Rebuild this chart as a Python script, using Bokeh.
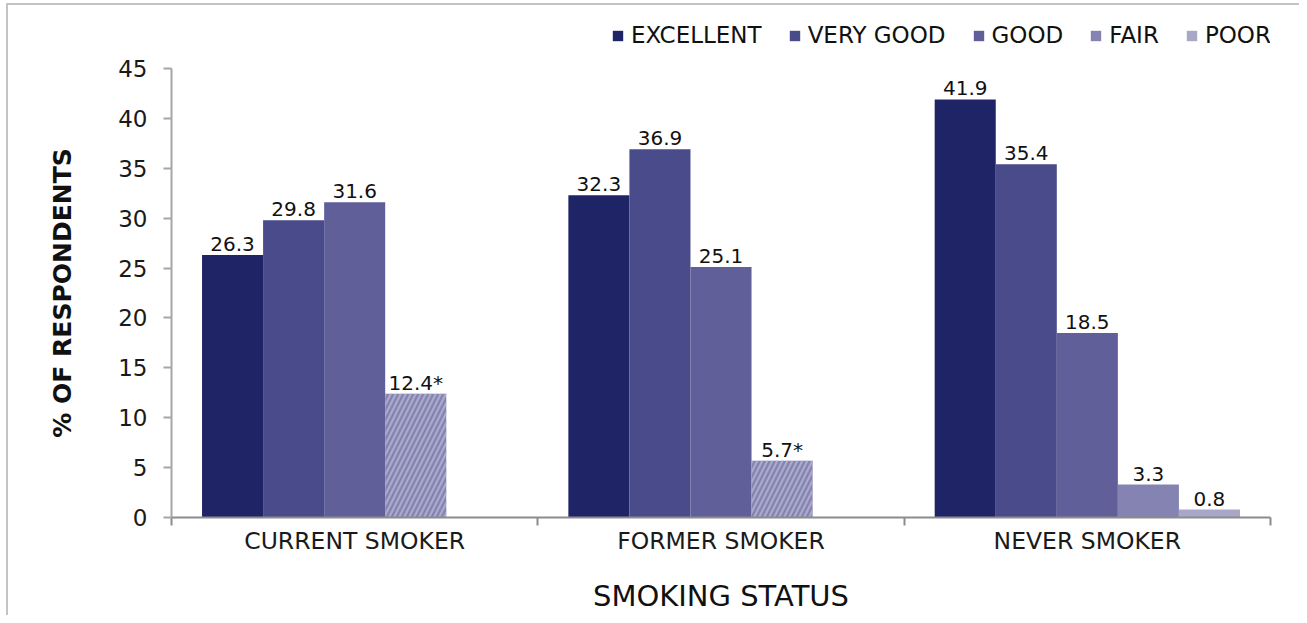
from bokeh.plotting import figure
from bokeh.layouts import column
from bokeh.models import (ColumnDataSource, Range1d, LinearAxis, FixedTicker,
                          Legend, LegendItem)
from bokeh.core.properties import value
from bokeh.embed import file_html
from bokeh.resources import INLINE

# ---- data ----
categories = ["CURRENT SMOKER", "FORMER SMOKER", "NEVER SMOKER"]
series = ["EXCELLENT", "VERY GOOD", "GOOD", "FAIR", "POOR"]
excellent = [26.3, 32.3, 41.9]
very_good = [29.8, 36.9, 35.4]
good = [31.6, 25.1, 18.5]
fair = [12.4, 5.7, 3.3]
poor = [None, None, 0.8]
fair_flagged = [True, True, False]   # estimate flagged with *
y_ticks = [0, 5, 10, 15, 20, 25, 30, 35, 40, 45]

colors = ["#1F2467", "#4A4B8A", "#605F99", "#8483B2", "#A8A7C8"]
FONT = "DejaVu Sans"

W = 1299
LH = 48          # legend strip height
H = 615 - LH     # main plot height

# ---------------- legend strip ----------------
lg = figure(width=W, height=LH, output_backend="svg", toolbar_location=None,
            x_range=Range1d(0, 1), y_range=Range1d(0, 1),
            x_axis_type=None, y_axis_type=None)
lg.min_border_left = lg.min_border_right = 0
lg.min_border_top = lg.min_border_bottom = 0
lg.outline_line_color = None
lg.background_fill_color = None
lg.border_fill_color = None
lg.xgrid.grid_line_color = None
lg.ygrid.grid_line_color = None

# ---------------- main plot ----------------
p = figure(width=W, height=H, output_backend="svg", toolbar_location=None,
           x_range=Range1d(0, 3), y_range=Range1d(0, 45),
           x_axis_type=None, y_axis_type=None)
p.min_border_left = 171
p.min_border_right = W - 1270
p.min_border_top = 68 - LH
p.min_border_bottom = 615 - 517
p.outline_line_color = None
p.background_fill_color = "white"
p.border_fill_color = None

# y axis
yaxis = LinearAxis(ticker=FixedTicker(ticks=y_ticks))
yaxis.axis_line_color = "#a6a6a6"
yaxis.axis_line_width = 2
yaxis.major_tick_line_color = "#a6a6a6"
yaxis.major_tick_line_width = 2
yaxis.major_tick_out = 8
yaxis.major_tick_in = 0
yaxis.minor_tick_line_color = None
yaxis.major_label_text_font = FONT
yaxis.major_label_text_font_size = "23px"
yaxis.major_label_text_color = "#1a1a1a"
yaxis.major_label_standoff = 16
yaxis.axis_label = "% OF RESPONDENTS"
yaxis.axis_label_text_font = FONT
yaxis.axis_label_text_font_size = "25px"
yaxis.axis_label_text_font_style = "bold"
yaxis.axis_label_text_color = "#111111"
yaxis.axis_label_standoff = 38
p.add_layout(yaxis, "left")

# x axis: labels at group centres, ticks at group boundaries
xaxis = LinearAxis(ticker=FixedTicker(ticks=[i + 0.5 for i in range(len(categories))],
                                      minor_ticks=list(range(len(categories) + 1))))
xaxis.major_label_overrides = {i + 0.5: c for i, c in enumerate(categories)}
xaxis.axis_line_color = "#8c8c8c"
xaxis.axis_line_width = 2
xaxis.major_tick_line_color = None
xaxis.major_tick_out = 0
xaxis.major_tick_in = 0
xaxis.minor_tick_line_color = "#8c8c8c"
xaxis.minor_tick_line_width = 2
xaxis.minor_tick_out = 8
xaxis.minor_tick_in = 0
xaxis.major_label_text_font = FONT
xaxis.major_label_text_font_size = "23.5px"
xaxis.major_label_text_color = "#1a1a1a"
xaxis.major_label_standoff = 1
xaxis.axis_label = "SMOKING STATUS"
xaxis.axis_label_text_font = FONT
xaxis.axis_label_text_font_size = "29px"
xaxis.axis_label_text_font_style = "normal"
xaxis.axis_label_text_color = "#111111"
xaxis.axis_label_standoff = 21
p.add_layout(xaxis, "below")

# grid
p.ygrid.ticker = FixedTicker(ticks=y_ticks)
p.ygrid.grid_line_color = "#dcdcdc"
p.ygrid.grid_line_width = 1.5
p.xgrid.grid_line_color = None

all_series = [excellent, very_good, good, fair, poor]
nslots = len(series) + 1
items = []
for k, (name, vals) in enumerate(zip(series, all_series)):
    xs, tops, labels, hatches = [], [], [], []
    for i, v in enumerate(vals):
        if v is None:
            continue
        xs.append(i + (k + 1) / nslots)
        tops.append(v)
        flag = (name == "FAIR" and fair_flagged[i])
        labels.append(f"{v}" + ("*" if flag else ""))
        hatches.append("/" if flag else " ")
    src = ColumnDataSource(dict(x=xs, top=tops, label=labels, hatch=hatches))
    p.vbar(x="x", top="top", bottom=0, width=1 / nslots, source=src,
           fill_color=colors[k], line_color=None,
           hatch_pattern="hatch", hatch_color="#ABAACB",
           hatch_weight=2.2, hatch_scale=10)
    p.text(x="x", y="top", text="label", source=src,
           text_align="center", text_baseline="alphabetic", y_offset=-11,
           text_font=value(FONT), text_font_size="20px", text_color="#111111")
    # hidden legend-only swatch (same series data, never shown)
    sw = lg.vbar(x=xs, top=tops, bottom=0, width=1 / nslots,
                 fill_color=colors[k], line_color=None, visible=False)
    items.append(LegendItem(label=name, renderers=[sw]))

legend = Legend(items=items, orientation="horizontal", location=(440, 0))
legend.label_text_font = FONT
legend.label_text_font_size = "23px"
legend.label_text_color = "#111111"
legend.glyph_width = 13
legend.glyph_height = 13
legend.label_standoff = 7
legend.spacing = 26
legend.padding = 0
legend.margin = 0
legend.border_line_color = None
legend.background_fill_alpha = 0
legend.inactive_fill_alpha = 0
lg.add_layout(legend, "center")

layout = column(lg, p, spacing=0)
layout.styles = {"box-shadow": "inset 6px 3px 0 0 white, inset 8px 5px 0 0 #c4c4c4"}

open("out.html", "w").write(file_html(layout, INLINE))
